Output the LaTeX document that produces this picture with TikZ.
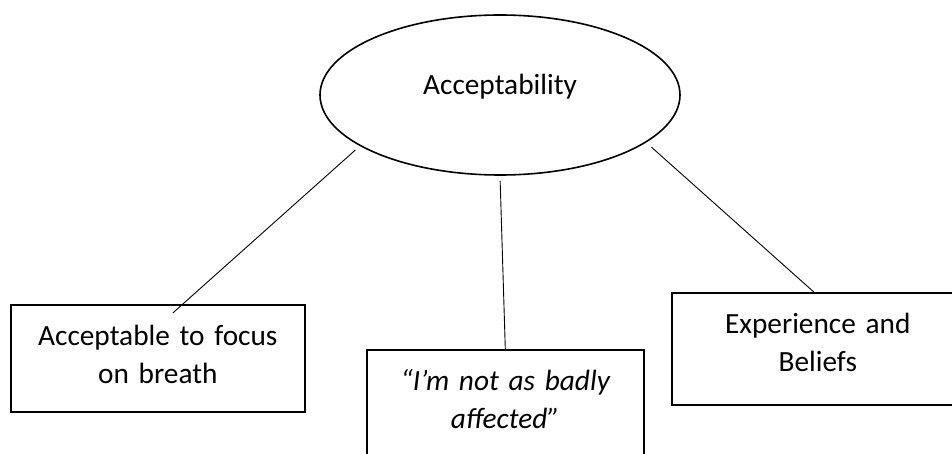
\documentclass[tikz,border=0pt]{standalone}
\usepackage{fontspec}
\setmainfont{Carlito}
\usetikzlibrary{shapes.geometric}

\begin{document}
\begin{tikzpicture}[x=1pt,y=-1pt,font=\fontsize{29.3}{38}\selectfont,
 topic/.style={draw,ellipse,line width=1.6pt,minimum width=360pt,minimum height=160pt,inner sep=0pt,text height=10pt,text depth=10pt},
 box/.style={draw,rectangle,line width=1.6pt,anchor=north west,inner sep=0pt,align=center,text height=41pt},
 link/.style={line width=0.9pt}]
\useasboundingbox (0,0) rectangle (952,454);
\clip (0,0) rectangle (952,454);
\node[topic] (accept) at (500,95) {Acceptability};
\node[box,text width=294pt,text depth=66pt] (focus) at (10,304) {Acceptable to focus\\on breath};
\node[box,text width=277pt,text depth=100pt] (mid) at (366,349) {\itshape “I’m not as badly\\affected”};
\node[box,text width=292pt,text depth=71pt] (beliefs) at (671,292) {Experience and\\Beliefs};
\draw[link,shorten <=6pt] (accept.200) -- ([xshift=15pt,yshift=-9pt]focus.north);
\draw[link,shorten <=5pt] (accept.south) -- (mid.north);
\draw[link,shorten <=7pt] (accept.342.5) -- ([xshift=-4pt]beliefs.north);
\end{tikzpicture}
\end{document}
